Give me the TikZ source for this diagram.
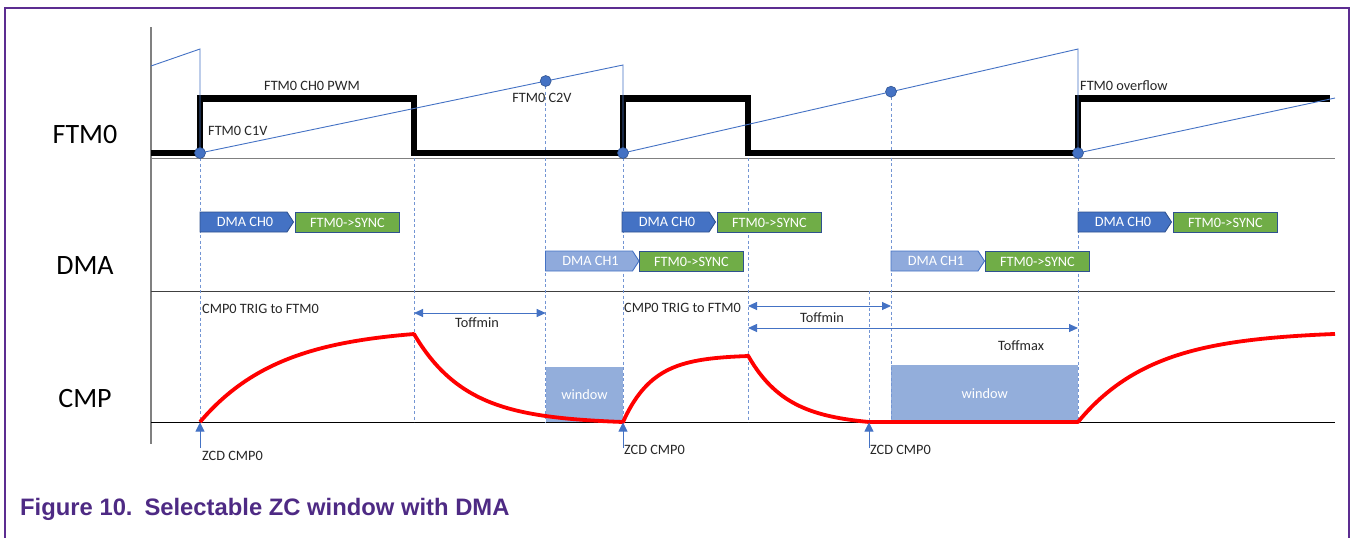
\documentclass[tikz,border=0pt]{standalone}
\usepackage{fontspec}
\setmainfont{Carlito}
\newfontfamily\capfont{Liberation Sans}
\usetikzlibrary{arrows.meta}
\definecolor{framec}{HTML}{5C2D91}
\definecolor{captxt}{HTML}{4E2A84}
\definecolor{bl}{HTML}{4472C4}
\definecolor{bldk}{HTML}{2F528F}
\definecolor{bllt}{HTML}{8FAADC}
\definecolor{gr}{HTML}{70AD47}
\definecolor{winc}{HTML}{93AEDB}
\definecolor{txt}{HTML}{262626}
\newcommand\mychev[6]{%
  \draw[fill=#4, draw=#5, line width=0.9pt] (#2,#3) -- ++(87,0) -- ++(6.5,10) -- ++(-6.5,10) -- ++(-87,0) -- cycle;
  \node[boxtxt] (#1) at ({#2+45},{#3+10}) {#6};}
\begin{document}
\begin{tikzpicture}[x=1pt,y=-1pt,
  lbl/.style={font=\fontsize{14.3}{16}\selectfont, text=txt, inner sep=0pt},
  rowlbl/.style={font=\fontsize{28}{32}\selectfont, text=black, inner sep=0pt},
  boxtxt/.style={font=\fontsize{14.3}{16}\selectfont, text=white, inner sep=0pt},
  grbox/.style={draw=bldk, fill=gr, line width=0.9pt, minimum width=104pt, minimum height=20pt, inner sep=0pt, anchor=north west, boxtxt},
  winbox/.style={fill=winc, inner sep=0pt, anchor=south west, font=\fontsize{14.3}{16}\selectfont, text=white},
  dashv/.style={draw=bl!75, line width=0.8pt, dash pattern=on 3pt off 2.5pt},
  pwm/.style={draw=black, line width=6.5pt},
  saw/.style={draw=bl, line width=0.9pt},
  dot/.style={circle, fill=bl, draw=bldk, line width=0.6pt, inner sep=0pt, minimum size=11pt},
  sig/.style={draw=red, line width=3.8pt},
  dimarr/.style={draw=bl, line width=0.9pt, {Triangle[length=9pt,width=8pt]}-{Triangle[length=9pt,width=8pt]}},
  zcd/.style={draw=bl, line width=0.9pt, -{Triangle[length=9pt,width=9pt]}},
  axisl/.style={draw=gray, line width=1.3pt},
  basel/.style={draw=black!75, line width=0.9pt}
]
\useasboundingbox (0,0) rectangle (1352,538);
% frame
\draw[framec, line width=2.5pt] (5,540) -- (5,8) -- (1349,8) -- (1349,540);
% row labels
\node[rowlbl, anchor=base] (lftm) at (85,143.3) {FTM0};
\node[rowlbl, anchor=base] (ldma) at (85,274.3) {DMA};
\node[rowlbl, anchor=base] (lcmp) at (85,407.7) {CMP};
% axes
\draw[axisl] (151,27) -- (151,444);
\draw[basel, draw=gray] (151,158) -- (1335,158);
\draw[basel] (151,291) -- (1335,291);
\draw[basel, draw=black] (151,422) -- (1335,422);
% windows
\node[winbox, minimum width=77.3pt, minimum height=55.3pt] (win1) at (545.7,422) {window};
\node[winbox, minimum width=187pt, minimum height=57pt] (win2) at (891,422) {window};
% dashed verticals
\draw[dashv] (200,158) -- (200,422);
\draw[dashv] (414,158) -- (414,422);
\draw[dashv] (545.7,86) -- (545.7,422);
\draw[dashv] (623,158) -- (623,422);
\draw[dashv] (748,158) -- (748,422);
\draw[dashv] (869,291) -- (869,422);
\draw[dashv] (891,97) -- (891,422);
\draw[dashv] (1078,158) -- (1078,422);
% PWM
\draw[pwm] (151,153) -- (200,153) -- (200,98.5) -- (414,98.5) -- (414,153) -- (623,153) -- (623,98.5) -- (748,98.5) -- (748,153) -- (1078,153) -- (1078,98.5) -- (1330,98.5);
% sawtooth
\draw[saw] (151,66) -- (200,49) -- (200,153) -- (623,65) -- (623,153) -- (1078,49) -- (1078,153) -- (1335,98);
% dots
\node[dot] (d1) at (200,153) {};
\node[dot] (d2) at (545.7,81) {};
\node[dot] (d3) at (623,153) {};
\node[dot] (d4) at (891,91.7) {};
\node[dot] (d5) at (1078,153) {};
% FTM labels
\node[lbl, anchor=base] (tpwm) at (312,90.7) {FTM0 CH0 PWM};
\node[lbl, anchor=base west] (tc1v) at (208,135) {FTM0 C1V};
\node[lbl, anchor=base] (tc2v) at (542,102.7) {FTM0 C2V};
\node[lbl, anchor=base west] (tovf) at (1080,90.7) {FTM0 overflow};
% DMA boxes
\mychev{c0a}{200}{212}{bl}{bldk}{DMA CH0}
\node[grbox] (s0a) at (295,212) {FTM0->SYNC};
\mychev{c0b}{622}{212}{bl}{bldk}{DMA CH0}
\node[grbox] (s0b) at (717,212) {FTM0->SYNC};
\mychev{c0c}{1078}{212}{bl}{bldk}{DMA CH0}
\node[grbox] (s0c) at (1173,212) {FTM0->SYNC};
\mychev{c1a}{545.5}{251}{bllt}{bl}{DMA CH1}
\node[grbox] (s1a) at (639,251) {FTM0->SYNC};
\mychev{c1b}{891}{251}{bllt}{bl}{DMA CH1}
\node[grbox] (s1b) at (985,251) {FTM0->SYNC};
% CMP labels
\node[lbl, anchor=base west] (trig1) at (202,313) {CMP0 TRIG to FTM0};
\node[lbl, anchor=base west] (trig2) at (624,312) {CMP0 TRIG to FTM0};
% dimension arrows
\coordinate (a1) at (414,313);
\coordinate (b1) at (545.7,313);
\coordinate (a2) at (748,306);
\coordinate (b2) at (891,306);
\coordinate (a3) at (748,328);
\coordinate (b3) at (1078,328);
\draw[dimarr] (a1) -- (b1);
\draw[dimarr] (a2) -- (b2);
\draw[dimarr] (a3) -- (b3);
\node[lbl, anchor=base] (tmin1) at (477,327.3) {Toffmin};
\node[lbl, anchor=base] (tmax2) at (822,322) {Toffmin};
\node[lbl, anchor=base] (tmax) at (1021,350) {Toffmax};
% CMP signal
\draw[sig, line join=round] plot[domain=200:414, samples=80] (\x,{422-94.5*(1-exp(-(\x-200)/80))})
  -- plot[domain=414:623, samples=80] (\x,{422-88*(exp(-(\x-414)/52)-0.018*(\x-414)/209)})
  -- plot[domain=623:748, samples=60] (\x,{422-67*(1-exp(-(\x-623)/30))})
  -- plot[domain=748:869, samples=60] (\x,{422-66.5*(exp(-(\x-748)/38)-0.0414*(\x-748)/121)})
  -- (1078,422)
  -- plot[domain=1078:1335, samples=80] (\x,{422-91*(1-exp(-(\x-1078)/75))});
% ZCD arrows
\coordinate (z1s) at (200,448);
\coordinate (z1e) at (200,422.5);
\coordinate (z2s) at (623,448);
\coordinate (z2e) at (623,422.5);
\coordinate (z3s) at (869,448);
\coordinate (z3e) at (869,422.5);
\draw[zcd] (z1s) -- (z1e);
\draw[zcd] (z2s) -- (z2e);
\draw[zcd] (z3s) -- (z3e);
\node[lbl, anchor=base west] (zl1) at (202,460) {ZCD CMP0};
\node[lbl, anchor=base west] (zl2) at (624,454) {ZCD CMP0};
\node[lbl, anchor=base west] (zl3) at (870,454) {ZCD CMP0};
% caption
\node[anchor=base west, inner sep=0pt, text=captxt, font=\capfont\bfseries\fontsize{23.8}{28}\selectfont] (cap) at (20,515) {Figure 10.\hspace{0.5em}Selectable ZC window with DMA};
\end{tikzpicture}
\end{document}
